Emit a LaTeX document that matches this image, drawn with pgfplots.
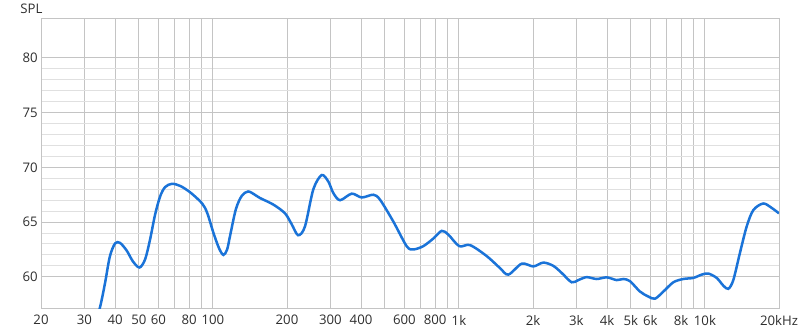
\documentclass[border=0pt]{standalone}
\usepackage{pgfplots}
\pgfplotsset{compat=1.18}
\usepackage{fontspec}
\setmainfont{Open Sans}
\definecolor{curve}{HTML}{1A73D8}
\definecolor{gmaj}{HTML}{C4C4C4}
\definecolor{gmin}{HTML}{E0E0E0}
\definecolor{gdark}{HTML}{7A7A7A}
\definecolor{lbl}{HTML}{2E2E2E}
\begin{document}
\fontsize{6.6pt}{7.5pt}\selectfont
\begin{tikzpicture}
\path[use as bounding box] (-20.5pt,-12.5pt) rectangle (379.5pt,154pt);
\begin{axis}[
  at={(0,0)}, anchor=south west,
  scale only axis, width=369pt, height=145pt,
  xmode=log, xmin=20, xmax=20000,
  ymin=57.15, ymax=83.65,
  axis line style={gmaj, line width=0.5pt},
  xtick={20,30,40,50,60,70,80,90,200,300,400,500,600,700,800,900,2000,3000,4000,5000,6000,7000,8000,9000,20000},
  xticklabels={20,30,40,50,60,,80,,200,300,400,,600,,800,,2k,3k,4k,5k,6k,,8k,,20kHz},
  extra x ticks={100,1000,10000},
  extra x tick labels={100,1k,10k},
  extra x tick style={grid style={gdark, line width=0.5pt}},
  ytick={60,65,70,75,80},
  minor y tick num=4,
  grid=both,
  major grid style={gmaj, line width=0.5pt},
  minor grid style={gmin, line width=0.5pt},
  major tick length=0pt, minor tick length=0pt,
  tick style={draw=none},
  xminorgrids=false,
  xticklabel style={anchor=north, inner sep=0pt, yshift=-3.5pt, text=lbl, font=\fontsize{6.6pt}{7.5pt}\selectfont},
  yticklabel style={anchor=east, inner sep=0pt, xshift=-1.5pt, text=lbl, font=\fontsize{6.6pt}{7.5pt}\selectfont},
  /pgf/number format/assume math mode=true,
  clip mode=individual,
]
\addplot[curve, line width=1.25pt, smooth, tension=0.5] coordinates {
(33,55.5) (34.8,57.28) (36.4,59.4) (38.1,61.86) (40,63.05) (41.9,63.1)
(44.6,62.4) (47.3,61.4) (50.3,60.85) (53.0,61.6) (55.5,63.4) (58.2,65.7)
(61.0,67.35) (63.9,68.2) (68.1,68.5) (73.7,68.3) (81.0,67.7) (90.4,66.7)
(94.9,65.8) (100.5,64.0) (105.9,62.6) (110.3,62.0) (114.2,62.5) (117.5,63.8)
(124,66.2) (131,67.4) (139,67.8) (148,67.5) (155.3,67.2) (176,66.6)
(196.3,65.8) (209,64.8) (222,63.8) (236.6,64.6) (255.9,68.0) (276.8,69.3)
(294.5,68.7) (308.6,67.65) (328.6,67.0) (366.6,67.6) (402.6,67.25) (448.6,67.5)
(477.6,67.05) (540.7,65.06) (613,62.8) (652,62.5) (716,62.8) (787,63.5)
(851,64.2) (906,63.85) (1003,62.8) (1109,62.9) (1296,61.9) (1468,60.8)
(1588,60.2) (1800,61.2) (2006,60.95) (2203,61.3) (2419,61.0) (2617,60.35)
(2872,59.5) (3055,59.7) (3304,59.97) (3630,59.8) (3988,59.95) (4378,59.7)
(4658,59.8) (4959,59.6) (5445,58.65) (5885,58.2) (6265,58.0) (6776,58.65)
(7437,59.5) (8165,59.8) (8966,59.9) (9700,60.2) (10320,60.3) (11160,59.9)
(11870,59.2) (12440,58.9) (13040,59.7) (13880,62.2) (14780,64.6) (15730,66.1)
(17260,66.7) (18670,66.3) (20000,65.8)
};
\end{axis}
\node[anchor=base west, inner sep=0pt, text=lbl] at (-10.5pt,147.2pt) {SPL};
\end{tikzpicture}
\end{document}
